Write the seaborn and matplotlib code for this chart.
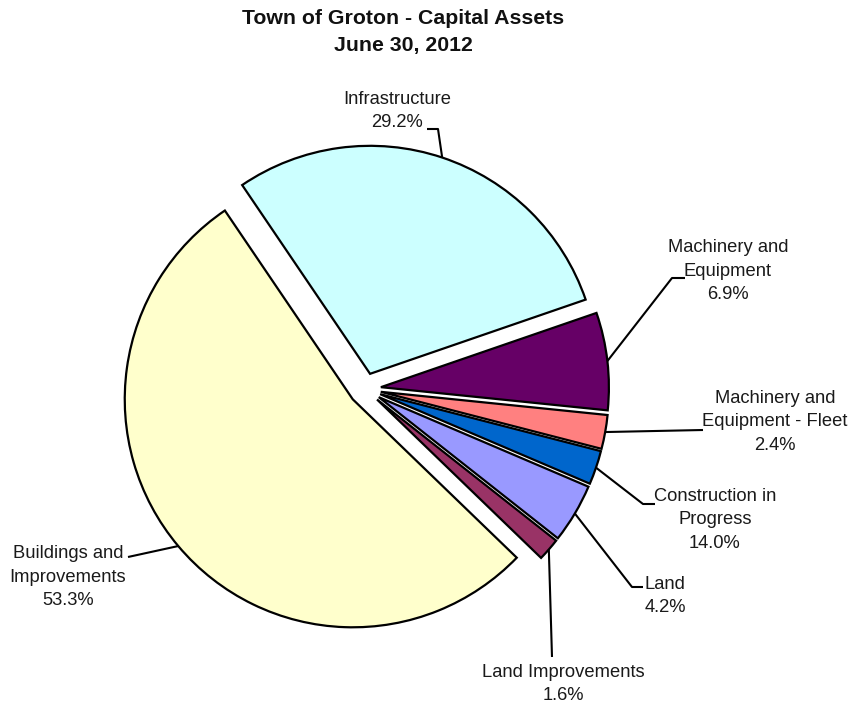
import matplotlib
matplotlib.use("Agg")
import matplotlib.pyplot as plt
from matplotlib import font_manager as fm
import seaborn as sns
import numpy as np

sns.set_theme(style="white")

# pick a narrow font if one is installed, otherwise Liberation Sans
_names = {f.name for f in fm.fontManager.ttflist}
if "Liberation Sans Narrow" in _names:
    FAMILY, LABEL_FS, TITLE_FS = ["Liberation Sans Narrow", "DejaVu Sans"], 15.5, 18
else:
    FAMILY, LABEL_FS, TITLE_FS = ["Liberation Sans", "DejaVu Sans"], 13.2, 15.3
plt.rcParams['font.family'] = FAMILY

# Data (clockwise from the top-right)
categories = ["Machinery and\nEquipment", "Machinery and\nEquipment - Fleet",
              "Construction in\nProgress", "Land", "Land Improvements",
              "Buildings and\nImprovements", "Infrastructure"]
slice_values = [6.9, 2.4, 2.4, 4.2, 1.6, 53.3, 29.2]
label_pcts = ["6.9%", "2.4%", "14.0%", "4.2%", "1.6%", "53.3%", "29.2%"]
colors = ["#660066", "#FF8080", "#0066CC", "#9999FF", "#993366", "#FFFFCC", "#CCFFFF"]

W, H = 849, 709
fig = plt.figure(figsize=(W / 100, H / 100), dpi=100)
ax = fig.add_axes([0, 0, 1, 1])

cx, cy = 365, H - 389
R = 228
wedges, _ = ax.pie(slice_values, colors=colors, startangle=19, counterclock=False,
                   explode=[16] * len(slice_values), radius=R, center=(cx, cy),
                   wedgeprops=dict(edgecolor="black", linewidth=1.6), frame=False)
ax.set_xlim(0, W)
ax.set_ylim(0, H)
ax.set_aspect('equal', adjustable='datalim')
ax.axis('off')

# label layout: text block center (image px), elbow points (image px)
layout = [
    dict(text=(728, 271), path=[(672, 278), (685, 278)]),
    dict(text=(775, 422), path=[(703, 430)]),
    dict(text=(715, 520), path=[(643, 504), (655, 504)]),
    dict(text=(665, 596), path=[(632, 587), (643, 587)]),
    dict(text=(563, 684), path=[(552, 657)]),
    dict(text=(68, 577), path=[(128, 557)]),
    dict(text=(397, 111), path=[(438, 129), (427, 129)]),
]

for w, cat, pct, lay in zip(wedges, categories, label_pcts, layout):
    mid = np.deg2rad((w.theta1 + w.theta2) / 2)
    wx, wy = w.center
    anchor = (wx + w.r * np.cos(mid), wy + w.r * np.sin(mid))
    xs = [anchor[0]] + [p[0] for p in lay["path"]]
    ys = [anchor[1]] + [H - p[1] for p in lay["path"]]
    ax.plot(xs, ys, color="black", lw=1.5, solid_capstyle="butt", zorder=3)
    ax.text(lay["text"][0], H - lay["text"][1], f"{cat}\n{pct}", ha="center",
            va="center", fontsize=LABEL_FS, color="#1a1a1a", linespacing=1.5,
            multialignment="center")

fig.text(403 / W, 1 - 18 / H, "Town of Groton - Capital Assets", ha="center", va="center",
         fontsize=TITLE_FS, fontweight="bold", color="#111111")
fig.text(403 / W, 1 - 46 / H, "June 30, 2012", ha="center", va="center",
         fontsize=TITLE_FS, fontweight="bold", color="#111111")

fig.savefig("out.png", dpi=100)
